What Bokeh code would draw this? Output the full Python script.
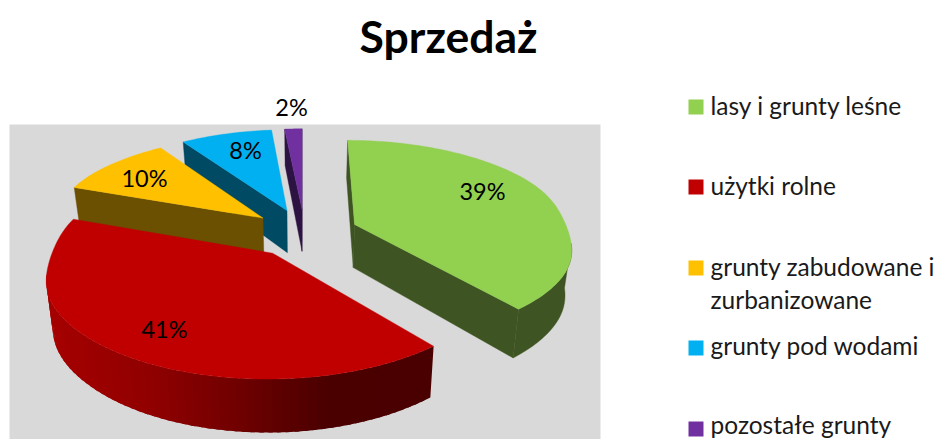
import numpy as np
from bokeh.plotting import figure
from bokeh.embed import file_html
from bokeh.resources import INLINE
from bokeh.core.properties import value

# ---- data
title = "Sprzedaż"
categories = ["lasy i grunty leśne", "użytki rolne", "grunty zabudowane i\nzurbanizowane", "grunty pod wodami", "pozostałe grunty"]
shares = [39.0, 41.5, 10.1, 7.9, 1.5]
share_labels = ["39%", "41%", "10%", "8%", "2%"]
top_colors = ["#92D050", "#C00000", "#FFC000", "#00B0F0", "#7030A0"]
wall_colors = ["#3E5422", "#4A0000", "#6A5000", "#004A63", "#2D1342"]

# ---- layout
W, H = 938, 439
VPX, HORIZON, Y0 = 302.0, -415.0, 253.0
D, R, EXPLODE, THICK, CONVERGE = 1434.0, 227.5, 55.6, 45.0, 0.025
SIDE_TRIM = 0.03
CENTER = (2.1, 46.1)
label_pos = [(482, 190), (164, 328), (144, 177), (245, 149), (291, 106)]
legend_y = [105, 185, 266, 345, 424]
SWATCH_Y = [107, 187, 268, 348, 429]
RIM_STOPS_X = [50, 150, 250, 320, 434]
RIM_STOPS_R = [165, 144, 106, 76, 74]


def project(X, Z, down=False):
    w = 1.0 / (1.0 + Z / D)
    x = VPX + X * w
    y = HORIZON + (Y0 - HORIZON) * w
    if down:
        y = y + THICK * w
        x = VPX + (x - VPX) * (1 - CONVERGE)
    return x, y


p = figure(width=W, height=H, x_range=(0, W), y_range=(H, 0), output_backend="svg",
           toolbar_location=None, min_border=0, outline_line_color=None)
p.axis.visible = False
p.grid.visible = False

p.quad(left=9, right=600, top=124, bottom=439, fill_color="#D9D9D9", line_color=None)

fractions = np.array(shares) / sum(shares)
ends = np.cumsum(fractions) * 2 * np.pi
starts = ends - fractions * 2 * np.pi


def poly(color, xs, ys, lw=0.4):
    p.patch(list(xs), list(ys), fill_color=color, line_color=color, line_width=lw)


for i in [4, 3, 2, 0, 1]:
    a0, a1 = starts[i], ends[i]
    mid = (a0 + a1) / 2
    ax = CENTER[0] + EXPLODE * np.sin(mid)
    az = CENTER[1] + EXPLODE * np.cos(mid)
    t = np.linspace(a0, a1, max(12, int((a1 - a0) * 60)))
    X = ax + R * np.sin(t) * (1 - SIDE_TRIM * np.abs(np.sin(t)) ** 16)
    Z = az + R * np.cos(t)
    wall_c = wall_colors[i]
    x1, y1 = project(ax, az)
    x4, y4 = project(ax, az, True)
    # radial walls that face the camera
    for k, nx, nz in [(0, -np.cos(a0), np.sin(a0)), (-1, np.cos(a1), -np.sin(a1))]:
        mx, mz = (ax + X[k]) / 2, (az + Z[k]) / 2
        if (0 - mx) * nx + (-D - mz) * nz > 0:
            x2, y2 = project(X[k], Z[k])
            x3, y3 = project(X[k], Z[k], True)
            poly(wall_c, [x1, x2, x3, x4], [y1, y2, y3, y4])
    # outer rim, front part only
    tx, ty = project(X, Z)
    bx, by = project(X, Z, True)
    vis = np.where((-X) * np.sin(t) + (-D - Z) * np.cos(t) > 0)[0]
    if len(vis) > 1:
        if i == 1:
            step = 2
            for j in range(vis[0], vis[-1], step):
                e = min(j + step + 1, vis[-1])
                r = int(np.interp(tx[j:e + 1].mean(), RIM_STOPS_X, RIM_STOPS_R))
                xs = list(tx[j:e + 1]) + list(bx[j:e + 1][::-1])
                ys = list(ty[j:e + 1]) + list(by[j:e + 1][::-1])
                p.patch(xs, ys, fill_color="#%02x0000" % r, line_color=None)
        else:
            a, b = vis[0], vis[-1] + 1
            poly(wall_c, list(tx[a:b]) + list(bx[a:b][::-1]), list(ty[a:b]) + list(by[a:b][::-1]))
    # top face
    poly(top_colors[i], [x1] + list(tx), [y1] + list(ty))

FONT = value("Lato")
p.text(x=[448], y=[35], text=[title], text_font=FONT, text_font_size="44.5px", text_font_style="bold",
       text_align="center", text_baseline="middle", text_color="#000000")
p.text(x=[q[0] for q in label_pos], y=[q[1] for q in label_pos], text=share_labels, text_font=FONT,
       text_font_size="23.5px", text_align="center", text_baseline="middle", text_color="#000000")

# legend
p.quad(left=[688] * 5, right=[703] * 5, top=[y - 8 for y in SWATCH_Y], bottom=[y + 7 for y in SWATCH_Y],
       fill_color=top_colors, line_color=None)
lx, ly, lt = [], [], []
for y, c in zip(legend_y, categories):
    for n, part in enumerate(c.split("\n")):
        lx.append(710); ly.append(y + n * 33); lt.append(part)
p.text(x=lx, y=ly, text=lt, text_font=FONT, text_font_size="24.5px", text_align="left",
       text_baseline="middle", text_color="#1a1a1a")

open("out.html", "w").write(file_html(p, INLINE))
